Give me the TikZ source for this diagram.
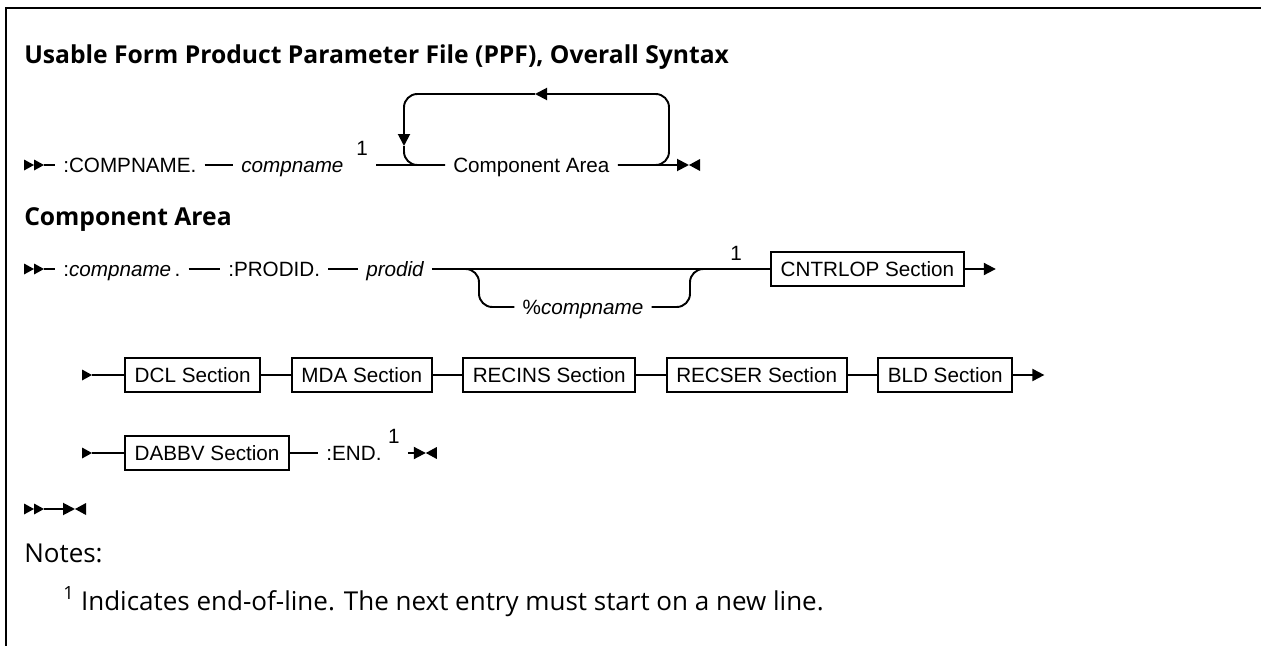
\documentclass[tikz,border=0pt]{standalone}
\usepackage{fontspec}
\setmainfont{Liberation Sans}
\newfontfamily\plexfont{Open Sans}
\usepackage{tikz}
\usetikzlibrary{arrows.meta,calc,positioning}

\begin{document}
\begin{tikzpicture}[x=0.75pt,y=-0.75pt,>={Triangle[length=9pt,width=9pt]},
  font=\fontsize{15.5}{18}\selectfont,
  rrtext/.style={inner xsep=6pt,inner ysep=0pt,text height=11.1pt,text depth=0pt},
  rrbox/.style={draw,line width=1.65pt,inner xsep=7.2pt,inner ysep=7.2pt,text height=11.1pt,text depth=0pt},
  rrline/.style={line width=1.45pt},
  heading/.style={font=\plexfont\bfseries\fontsize{18.5}{22}\selectfont,inner sep=0pt,anchor=base west},
  notetext/.style={font=\plexfont\fontsize{19.5}{23}\selectfont,inner sep=0pt,anchor=base west}]
  \useasboundingbox (0,0) rectangle (1261,646);
  % Helper macros: filled marker triangles, #1 = left x of the triangle on the rail
  \newcommand{\rtri}[1]{\fill ($(#1)+(0,-5.5)$) -- ++(10,5.5) -- ++(-10,5.5) -- cycle;}
  \newcommand{\ltri}[1]{\fill ($(#1)+(11,-6)$) -- ++(-11,6) -- ++(11,6) -- cycle;}

  % frame, open at right and bottom
  \draw[line width=1.6pt] (6,646) -- (6,8) -- (1261,8);

  \node[heading] (title) at (24,63) {Usable Form Product Parameter File (PPF), Overall Syntax};

  % overall syntax rail
  \rtri{24,165} \rtri{34,165}
  \coordinate (s1) at (44,165);
  \node[rrtext,anchor=west] (cn) at (55,165) {:COMPNAME.};
  \node[rrtext,anchor=west] (cnv) at (233,165) {\itshape compname};
  \node[rrtext] (fn1) at (362,148) {1};
  \node[rrtext,anchor=west] (ca) at (445,165) {Component Area};
  \coordinate (e1) at (689,165);
  \draw[rrline] (s1) -- (cn);
  \draw[rrline] (cn) -- (cnv);
  \draw[rrline] (fn1.east |- ca) -- (ca);
  \draw[rrline,->] (ca) -- (e1);
  \ltri{e1}
  % repeat loop over the component area
  \coordinate (lpL) at (404,94);
  \coordinate (lpR) at (669,94);
  \coordinate (lpM) at (535,94);
  \coordinate (lpD) at (404,146);
  \draw[rrline,rounded corners=10pt,->] (ca.east) -| (lpR) -- (lpM);
  \draw[rrline,rounded corners=10pt,->] (lpM) -- (lpL) -- (lpD);
  \draw[rrline,rounded corners=10pt] (lpD) |- (ca.west);

  \node[heading] (cahead) at (24,225) {Component Area};

  % component area, first row
  \rtri{24,269} \rtri{34,269}
  \coordinate (s2) at (44,269);
  \node[rrtext,anchor=west] (cv) at (55,269) {:\textit{compname}\,.};
  \node[rrtext,anchor=west] (pid) at (220,269) {:PRODID.};
  \node[rrtext,anchor=west] (pv) at (358,269) {\itshape prodid};
  \node[rrtext] (pcv) at (583,307) {\%\textit{compname}};
  \node[rrtext] (fn2) at (736,253) {1};
  \node[rrbox,anchor=west] (cntrl) at (770,269) {CNTRLOP Section};
  \coordinate (e2) at ($(cntrl.east)+(31,0)$);
  \coordinate (bL) at (479,269);
  \coordinate (bR) at (690,269);
  \draw[rrline] (s2) -- (cv);
  \draw[rrline] (cv) -- (pid);
  \draw[rrline] (pid) -- (pv);
  \draw[rrline] (pv) -- (cntrl);
  \draw[rrline,->] (cntrl) -- (e2);
  \draw[rrline,rounded corners=10pt] ($(bL)+(-15,0)$) -- (bL) |- (pcv.west);
  \draw[rrline,rounded corners=10pt] (pcv.east) -| (bR) -- ($(bR)+(15,0)$);

  % second row of sections
  \rtri{82,375}
  \coordinate (s3) at (92,375);
  \node[rrbox,anchor=west] (dcl) at (124,375) {DCL Section};
  \node[rrbox,right=22pt of dcl] (mda) {MDA Section};
  \node[rrbox,right=22pt of mda] (recins) {RECINS Section};
  \node[rrbox,right=22pt of recins] (recser) {RECSER Section};
  \node[rrbox,right=22pt of recser] (bld) {BLD Section};
  \coordinate (e3) at ($(bld.east)+(31,0)$);
  \draw[rrline] (s3) -- (dcl);
  \draw[rrline] (dcl) -- (mda);
  \draw[rrline] (mda) -- (recins);
  \draw[rrline] (recins) -- (recser);
  \draw[rrline] (recser) -- (bld);
  \draw[rrline,->] (bld) -- (e3);

  % last row
  \rtri{82,453}
  \coordinate (s4) at (92,453);
  \node[rrbox,anchor=west] (dabbv) at (124,453) {DABBV Section};
  \node[rrtext,right=21pt of dabbv] (endk) {:END.};
  \node[rrtext,anchor=west] (fn3) at ($(endk.east)+(-10,-17)$) {1};
  \coordinate (e4) at ($(fn3.east |- endk)+(18,0)$);
  \draw[rrline] (s4) -- (dabbv);
  \draw[rrline] (dabbv) -- (endk);
  \draw[rrline,->] (fn3.east |- endk) -- (e4);
  \ltri{e4}

  % empty rail
  \rtri{24,509} \rtri{34,509}
  \coordinate (s5) at (44,509);
  \coordinate (e5) at (75,509);
  \draw[rrline,->] (s5) -- (e5);
  \ltri{e5}

  \node[notetext] (notes) at (24,562) {Notes:};
  \node[notetext] (fnote) at (63,610) {\textsuperscript{1} Indicates end-of-line. The next entry must start on a new line.};
\end{tikzpicture}
\end{document}
